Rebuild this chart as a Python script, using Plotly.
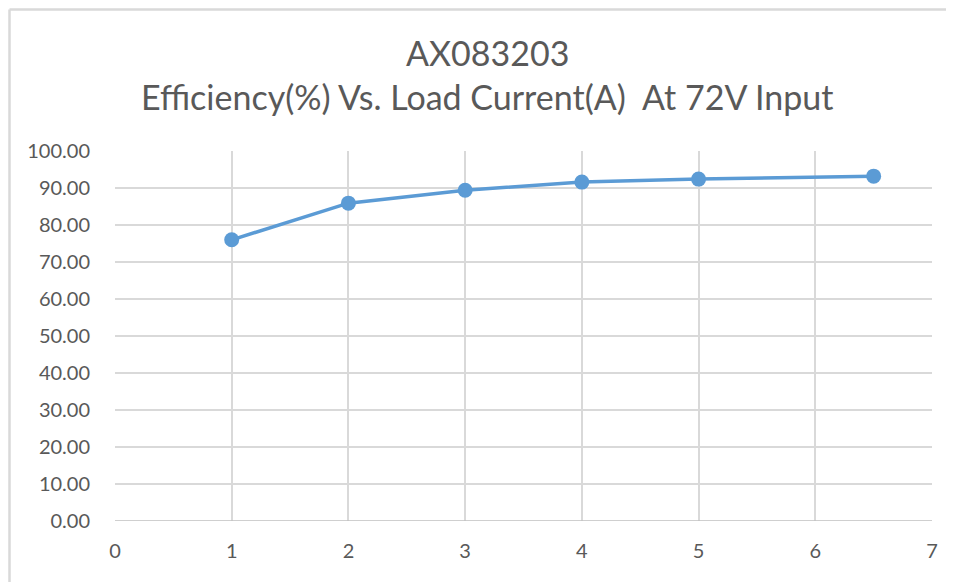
import plotly.graph_objects as go

load_current = [1, 2, 3, 4, 5, 6.5]
efficiency = [76.0, 85.9, 89.4, 91.6, 92.4, 93.2]
x_ticks = [0, 1, 2, 3, 4, 5, 6, 7]
y_ticks = [0, 10, 20, 30, 40, 50, 60, 70, 80, 90, 100]
title_line1 = "AX083203"
title_line2 = "Efficiency(%) Vs. Load Current(A)  At 72V Input"

# page renders with an 8px offset; work in figure coordinates = reference - 8
OFF = 8
W, H = 954 - OFF, 582 - OFF
L, R, T, B = 115 - OFF, W - (932 - OFF), 151 - OFF, H - (521 - OFF)
pw, ph = W - L - R, H - T - B

fig = go.Figure()
fig.add_trace(go.Scatter(
    x=load_current, y=efficiency, mode="lines+markers",
    line=dict(color="#5B9BD5", width=3.5),
    marker=dict(color="#5B9BD5", size=15),
    showlegend=False, hoverinfo="x+y",
))

font_family = "Lato, Carlito, Calibri, sans-serif"
fig.update_layout(
    width=W, height=H,
    margin=dict(l=L, r=R, t=T, b=B, pad=0),
    paper_bgcolor="white", plot_bgcolor="white",
    font=dict(family=font_family, color="#595959"),
    xaxis=dict(range=[0, 7], tickvals=x_ticks, ticktext=[str(v) for v in x_ticks],
               showgrid=True, gridcolor="#D9D9D9", gridwidth=1.5,
               zeroline=False, showline=False, ticks="",
               tickfont=dict(size=20, color="#595959"), ticklabelstandoff=16),
    yaxis=dict(range=[0, 100], tickvals=y_ticks, ticktext=[f"{v:.2f}" for v in y_ticks],
               showgrid=True, gridcolor="#D9D9D9", gridwidth=1.5,
               zeroline=False, showline=False, ticks="",
               tickfont=dict(size=20, color="#595959"), ticklabelstandoff=24),
)

def px_x(p):
    return (p - OFF - L) / pw

def px_y(p):
    return (H - B - (p - OFF)) / ph

# x-axis baseline
fig.add_shape(type="line", xref="x", yref="y", x0=0, x1=7, y0=0, y1=0,
              line=dict(color="#BFBFBF", width=1.5))
# chart border (top and left visible)
fig.add_shape(type="line", xref="paper", yref="paper",
              x0=px_x(9.5), x1=px_x(9.5), y0=px_y(590), y1=px_y(9.5),
              line=dict(color="#D9D9D9", width=2.5))
fig.add_shape(type="line", xref="paper", yref="paper",
              x0=px_x(9.5), x1=px_x(960), y0=px_y(9.5), y1=px_y(9.5),
              line=dict(color="#D9D9D9", width=2.5))

fig.add_annotation(text=title_line1, xref="paper", yref="paper",
                   x=px_x(487), y=px_y(52), xanchor="center", yanchor="middle",
                   showarrow=False,
                   font=dict(size=34, color="#595959", family=font_family))
fig.add_annotation(text=title_line2, xref="paper", yref="paper",
                   x=px_x(487), y=px_y(97), xanchor="center", yanchor="middle",
                   showarrow=False,
                   font=dict(size=34, color="#595959", family=font_family))

fig.write_html("out.html")
